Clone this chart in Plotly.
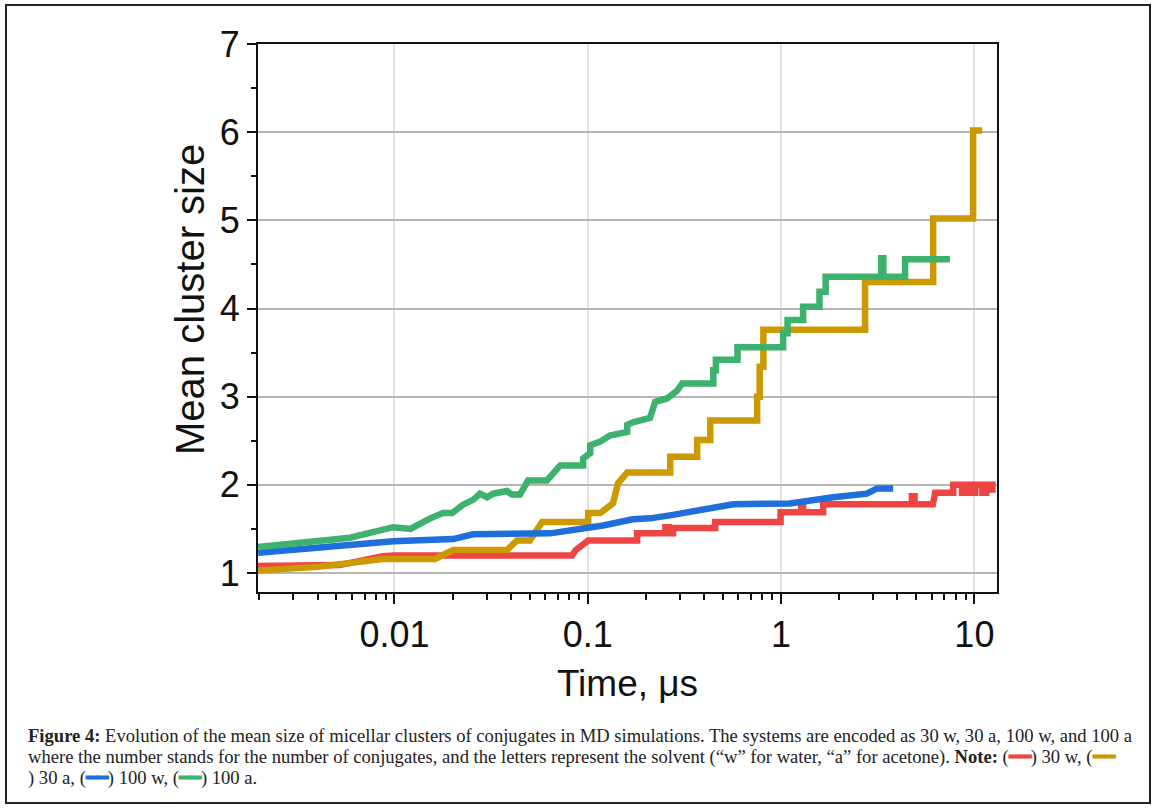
import plotly.graph_objects as go

# ---------------- data (time in microseconds, mean cluster size) ----------------
t_30w = [0.00197, 0.0052, 0.0087, 0.0101, 0.083, 0.0865, 0.1005, 0.18, 0.18, 0.252, 0.252, 0.262, 0.262,
         0.276, 0.276, 0.456, 0.456, 0.994, 0.994, 1.27, 1.27, 1.30, 1.30, 1.65, 1.65, 4.75, 4.75, 4.9, 4.9,
         6.1, 6.27, 7.77, 7.77, 8.63, 8.63, 9.16, 9.16, 9.72, 9.72, 10.1, 10.1, 11.0, 11.0, 11.5, 11.5, 12.4, 12.4]
v_30w = [1.08, 1.09, 1.19, 1.20, 1.20, 1.26, 1.37, 1.37, 1.45, 1.45, 1.52, 1.52, 1.45,
         1.45, 1.51, 1.51, 1.58, 1.58, 1.69, 1.69, 1.76, 1.76, 1.69, 1.69, 1.78, 1.78, 1.87, 1.87, 1.78,
         1.78, 1.91, 1.91, 2.0, 2.0, 1.91, 1.91, 2.0, 2.0, 1.91, 1.91, 2.0, 2.0, 1.91, 1.91, 2.0, 2.0, 1.91]

t_30a = [0.00197, 0.0040, 0.0087, 0.0162, 0.0201, 0.0382, 0.043, 0.0502, 0.058, 0.1005, 0.1005, 0.116,
         0.135, 0.1435, 0.160, 0.267, 0.267, 0.368, 0.368, 0.430, 0.430, 0.752, 0.752, 0.775, 0.775,
         0.81, 0.81, 2.72, 2.72, 6.12, 6.12, 9.85, 9.85, 10.96]
v_30a = [1.03, 1.07, 1.16, 1.16, 1.26, 1.26, 1.37, 1.37, 1.58, 1.58, 1.68, 1.68,
         1.79, 2.02, 2.14, 2.14, 2.32, 2.32, 2.51, 2.51, 2.73, 2.73, 3.0, 3.0, 3.34,
         3.34, 3.76, 3.76, 4.30, 4.30, 5.02, 5.02, 6.02, 6.02]

t_100w = [0.00197, 0.00325, 0.00589, 0.00984, 0.0201, 0.0255, 0.0638, 0.075, 0.0946, 0.12, 0.171, 0.21,
          0.276, 0.381, 0.565, 1.11, 1.41, 1.86, 2.78, 3.14, 3.80]
v_100w = [1.23, 1.27, 1.32, 1.36, 1.385, 1.44, 1.45, 1.47, 1.51, 1.54, 1.61, 1.62,
          1.66, 1.72, 1.78, 1.79, 1.83, 1.86, 1.90, 1.96, 1.96]

t_100a = [0.00197, 0.00589, 0.00984, 0.0121, 0.0153, 0.0178, 0.0199, 0.0224, 0.0255, 0.0277, 0.0301,
          0.0324, 0.0382, 0.0405, 0.0446, 0.0491, 0.0615, 0.0638, 0.072, 0.0946, 0.0946, 0.103, 0.103,
          0.116, 0.130, 0.160, 0.160, 0.171, 0.210, 0.223, 0.257, 0.290, 0.308, 0.446, 0.446, 0.46, 0.46,
          0.595, 0.595, 1.025, 1.025, 1.08, 1.08, 1.30, 1.30, 1.58, 1.58, 1.70, 1.70,
          3.30, 3.30, 3.38, 3.38, 4.38, 4.38, 7.48]
v_100a = [1.295, 1.40, 1.52, 1.50, 1.62, 1.68, 1.68, 1.77, 1.83, 1.90, 1.86,
          1.90, 1.93, 1.89, 1.89, 2.05, 2.05, 2.09, 2.22, 2.22, 2.30, 2.36, 2.45,
          2.49, 2.56, 2.60, 2.68, 2.71, 2.76, 2.94, 2.98, 3.07, 3.15, 3.15, 3.30, 3.30, 3.42,
          3.42, 3.56, 3.56, 3.72, 3.72, 3.87, 3.87, 4.02, 4.02, 4.19, 4.19, 4.36,
          4.36, 4.57, 4.57, 4.36, 4.36, 4.56, 4.56]

series_names = ["30 w", "30 a", "100 w", "100 a"]
series_colors = ["#EE4444", "#CC9900", "#1E6FDB", "#3DB26E"]

x_tick_vals = [0.01, 0.1, 1, 10]
x_tick_text = ["0.01", "0.1", "1", "10"]
y_tick_vals = [1, 2, 3, 4, 5, 6, 7]
x_title = "Time, μs"
y_title = "Mean cluster size"

caption_line1 = ("<b>Figure 4:</b> Evolution of the mean size of micellar clusters of conjugates in MD simulations. "
                 "The systems are encoded as 30 w, 30 a, 100 w, and 100 a")
caption_line2 = ("where the number stands for the number of conjugates, and the letters represent the solvent "
                 "(“w” for water, “a” for acetone). <b>Note:</b> (<span style='color:#EE4444'><b>━━</b></span>) 30 w, "
                 "(<span style='color:#CC9900'><b>━━</b></span>")
caption_line3 = (") 30 a, (<span style='color:#1E6FDB'><b>━━</b></span>) 100 w, "
                 "(<span style='color:#3DB26E'><b>━━</b></span>) 100 a.")

# ---------------- figure ----------------
fig = go.Figure()
for t, v, name, col in [(t_30w, v_30w, series_names[0], series_colors[0]),
                        (t_30a, v_30a, series_names[1], series_colors[1]),
                        (t_100w, v_100w, series_names[2], series_colors[2]),
                        (t_100a, v_100a, series_names[3], series_colors[3])]:
    fig.add_trace(go.Scatter(x=t, y=v, mode="lines", name=name,
                             line=dict(color=col, width=6.5), showlegend=False))

W, H = 1159, 811
L, R, T, B = 258, 997, 44, 592

def px(xp):
    return (xp - L) / (R - L)

def py(yp):
    return (B - yp) / (B - T)

fig.update_layout(
    width=W, height=H,
    margin=dict(l=L, r=W - R, t=T, b=H - B),
    paper_bgcolor="white", plot_bgcolor="white",
    font=dict(family="Liberation Sans, Arial, sans-serif", color="#111111"),
)

fig.update_xaxes(
    type="log", range=[-2.706, 1.117],
    tickvals=x_tick_vals, ticktext=x_tick_text,
    ticks="outside", ticklen=10, tickwidth=2, tickcolor="#111",
    minor=dict(ticks="outside", ticklen=6, tickwidth=2, tickcolor="#111", dtick="D1", showgrid=False),
    showline=True, linecolor="#111", linewidth=2, mirror=True,
    showgrid=True, gridcolor="#e2e2e2", gridwidth=1.5,
    tickfont=dict(size=36),
    title=dict(text=x_title, font=dict(size=37), standoff=16),
    zeroline=False,
)
fig.update_yaxes(
    range=[0.785, 7.0],
    tickvals=y_tick_vals,
    ticks="outside", ticklen=9, tickwidth=2, tickcolor="#111",
    minor=dict(ticks="outside", ticklen=5, tickwidth=2, tickcolor="#111", dtick=0.5, showgrid=False),
    showline=True, linecolor="#111", linewidth=2, mirror=True,
    showgrid=True, gridcolor="#b5b5b5", gridwidth=1.5,
    tickfont=dict(size=36),
    zeroline=False,
)

# y-axis title placed as rotated text
fig.add_annotation(text=y_title, xref="paper", yref="paper", x=px(190), y=py(300),
                   xanchor="center", yanchor="middle", textangle=-90, showarrow=False,
                   font=dict(size=40, family="Liberation Sans, Arial, sans-serif", color="#111"))

# outer frame of the figure panel
fig.add_shape(type="rect", xref="paper", yref="paper",
              x0=px(6), x1=px(1150), y0=py(803), y1=py(5),
              line=dict(color="#222", width=2), fillcolor="rgba(0,0,0,0)", layer="below")

cap_font = dict(family="Liberation Serif, Times New Roman, serif", size=18.6, color="#222")
for txt, yy in [(caption_line1, 735), (caption_line2, 757), (caption_line3, 778)]:
    fig.add_annotation(text=txt, xref="paper", yref="paper", x=px(26), y=py(yy),
                       xanchor="left", yanchor="middle", showarrow=False, font=cap_font, align="left")

fig.write_html("out.html", config={"displayModeBar": False},
               post_script="document.body.style.margin='0px';")
